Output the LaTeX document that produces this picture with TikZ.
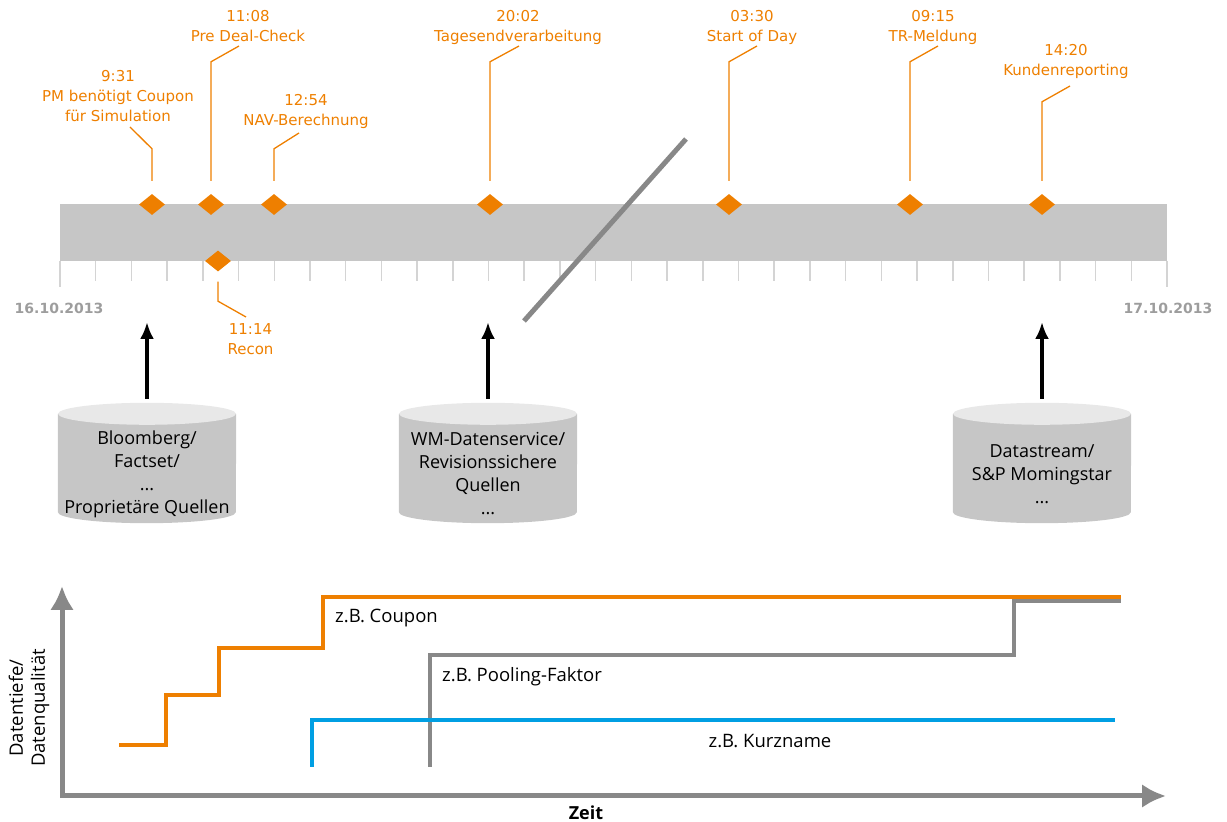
\documentclass[tikz,border=0pt]{standalone}
\usepackage{fontspec}
\setmainfont{Open Sans}
\newfontfamily\evfont{DejaVu Sans}
\usetikzlibrary{arrows.meta,shapes.geometric}
\definecolor{evorange}{HTML}{EE7F00}
\definecolor{bargray}{HTML}{C6C6C6}
\definecolor{tickgray}{HTML}{D4D4D4}
\definecolor{dategray}{HTML}{9D9D9D}
\definecolor{linegray}{HTML}{888888}
\definecolor{cyltop}{HTML}{E8E8E8}
\definecolor{kblue}{HTML}{009FE3}

\begin{document}
\begin{tikzpicture}[x=1pt,y=1pt,
    evt/.style={diamond,fill=evorange,inner sep=0pt,minimum width=26pt,minimum height=21pt},
    evlabel/.style={text=evorange,align=center,inner sep=0pt,text depth=0pt,font=\evfont\fontsize{15}{20}\selectfont},
    leader/.style={draw=evorange,line width=1.3pt},
    datelabel/.style={text=dategray,inner sep=0pt,font=\evfont\bfseries\fontsize{14}{17}\selectfont},
    dbbox/.style={inner sep=0pt,minimum width=178pt,minimum height=120pt},
    cyltext/.style={align=center,inner sep=0pt,font=\fontsize{18}{23}\selectfont},
    feed/.style={line width=3.5pt,-{Latex[length=17pt,width=14pt]}},
    curve/.style={line width=4.5pt},
    chartlabel/.style={inner sep=0pt,font=\fontsize{18.5}{22}\selectfont}]
  \useasboundingbox (0,0) rectangle (1227,822);

  \node[fill=bargray,inner sep=0pt,minimum width=1107pt,minimum height=57pt] (bar) at (613.5,589.5) {};
  \foreach \i in {1,...,30}
    \draw[tickgray,line width=1.5pt] (60+\i*35.71,561) -- ++(0,-20);
  \draw[tickgray,line width=1.5pt] (60,561) -- ++(0,-26);
  \draw[tickgray,line width=1.5pt] (1167,561) -- ++(0,-26);
  \node[datelabel] (start) at (59,514) {16.10.2013};
  \node[datelabel] (end) at (1168,514) {17.10.2013};

  \node[evt] (d1) at (152,617.5) {};
  \node[evt] (d2) at (211,617.5) {};
  \node[evt] (d3) at (274,617.5) {};
  \node[evt] (d4) at (490,617.5) {};
  \node[evt] (d5) at (729,617.5) {};
  \node[evt] (d6) at (910,617.5) {};
  \node[evt] (d7) at (1042,617.5) {};
  \node[evt] (d8) at (218,561) {};

  \node[evlabel,anchor=south] (l1) at (118,700) {9:31\\PM benötigt Coupon\\für Simulation};
  \node[evlabel,anchor=south] (l2) at (248,780) {11:08\\Pre Deal-Check};
  \node[evlabel,anchor=south] (l3) at (306,696) {12:54\\NAV-Berechnung};
  \node[evlabel,anchor=south] (l4) at (518,780) {20:02\\Tagesendverarbeitung};
  \node[evlabel,anchor=south] (l5) at (752,780) {03:30\\Start of Day};
  \node[evlabel,anchor=south] (l6) at (933,780) {09:15\\TR-Meldung};
  \node[evlabel,anchor=south] (l7) at (1066,746) {14:20\\Kundenreporting};
  \node[evlabel,anchor=north] (l8) at (250.5,499) {11:14\\Recon};

  \draw[leader] ([yshift=13pt]d1.north) -- ++(0,32) -- ([shift={(12pt,-5pt)}]l1.south);
  \draw[leader] ([yshift=13pt]d2.north) -- ++(0,119) -- ([shift={(-9pt,-4pt)}]l2.south);
  \draw[leader] ([yshift=13pt]d3.north) -- ++(0,32) -- ([shift={(-7pt,-7pt)}]l3.south);
  \draw[leader] ([yshift=13pt]d4.north) -- ++(0,119) -- ([shift={(1pt,-4pt)}]l4.south);
  \draw[leader] ([yshift=13pt]d5.north) -- ++(0,119) -- ([shift={(5pt,-4pt)}]l5.south);
  \draw[leader] ([yshift=13pt]d6.north) -- ++(0,119) -- ([shift={(5pt,-4pt)}]l6.south);
  \draw[leader] ([yshift=13pt]d7.north) -- ++(0,79) -- ([shift={(4pt,-10pt)}]l7.south);
  \draw[leader] ([yshift=-10pt]d8.south) -- ++(0,-19.5) -- ([shift={(-4.5pt,6pt)}]l8.north);

  \draw[linegray,line width=5pt] (524,501) -- (686,683);

  \node[dbbox] (bloom) at (147,359) {};
  \node[dbbox] (wm) at (488,359) {};
  \node[dbbox] (ds) at (1042,359) {};
  \foreach \c in {bloom,wm,ds} {
    \fill[bargray] ([yshift=-11pt]\c.north west) -- ([yshift=11pt]\c.south west)
      arc[start angle=180,end angle=360,x radius=89pt,y radius=11pt] -- ([yshift=-11pt]\c.north east) -- cycle;
    \fill[cyltop] ([yshift=-11pt]\c.north) ellipse[x radius=89pt,y radius=11pt];
  }
  \node[cyltext] (bloomtxt) at ([yshift=-11pt]bloom.center) {Bloomberg/\\Factset/\\...\\Proprietäre Quellen};
  \node[cyltext] (wmtxt) at ([yshift=-11pt]wm.center) {WM-Datenservice/\\Revisionssichere\\Quellen\\...};
  \node[cyltext] (dstxt) at ([yshift=-11pt]ds.center) {Datastream/\\S\&P Momingstar\\...};

  \coordinate (a1) at (147,500);
  \coordinate (a2) at (488,500);
  \coordinate (a3) at (1042,500);
  \draw[feed] ([yshift=4pt]bloom.north) -- (a1);
  \draw[feed] ([yshift=4pt]wm.north) -- (a2);
  \draw[feed] ([yshift=4pt]ds.north) -- (a3);

  \draw[linegray,line width=5pt,{Latex[length=24pt,width=24pt]}-{Latex[length=24pt,width=24pt]}]
    (62,236) -- (62,26) -- (1166,26);
  \node[chartlabel,rotate=90,align=center] (ylab) at (29,114) {Datentiefe/\\Datenqualität};
  \node[chartlabel,font=\bfseries\fontsize{18}{22}\selectfont] (xlab) at (586,9) {Zeit};

  \draw[curve,linegray] (430,55) -- (430,167) -- (1014,167) -- (1014,221) -- (1121,221);
  \draw[curve,kblue] (312,55) -- (312,102) -- (1115,102);
  \draw[curve,evorange] (119,77) -- (166,77) -- (166,127) -- (219,127) -- (219,174) -- (323,174) -- (323,225) -- (1121,225);
  \node[chartlabel,anchor=west] (coupon) at (335,204) {z.B. Coupon};
  \node[chartlabel,anchor=west] (pool) at (442,145) {z.B. Pooling-Faktor};
  \node[chartlabel] (kurz) at (770,81) {z.B. Kurzname};
\end{tikzpicture}
\end{document}
